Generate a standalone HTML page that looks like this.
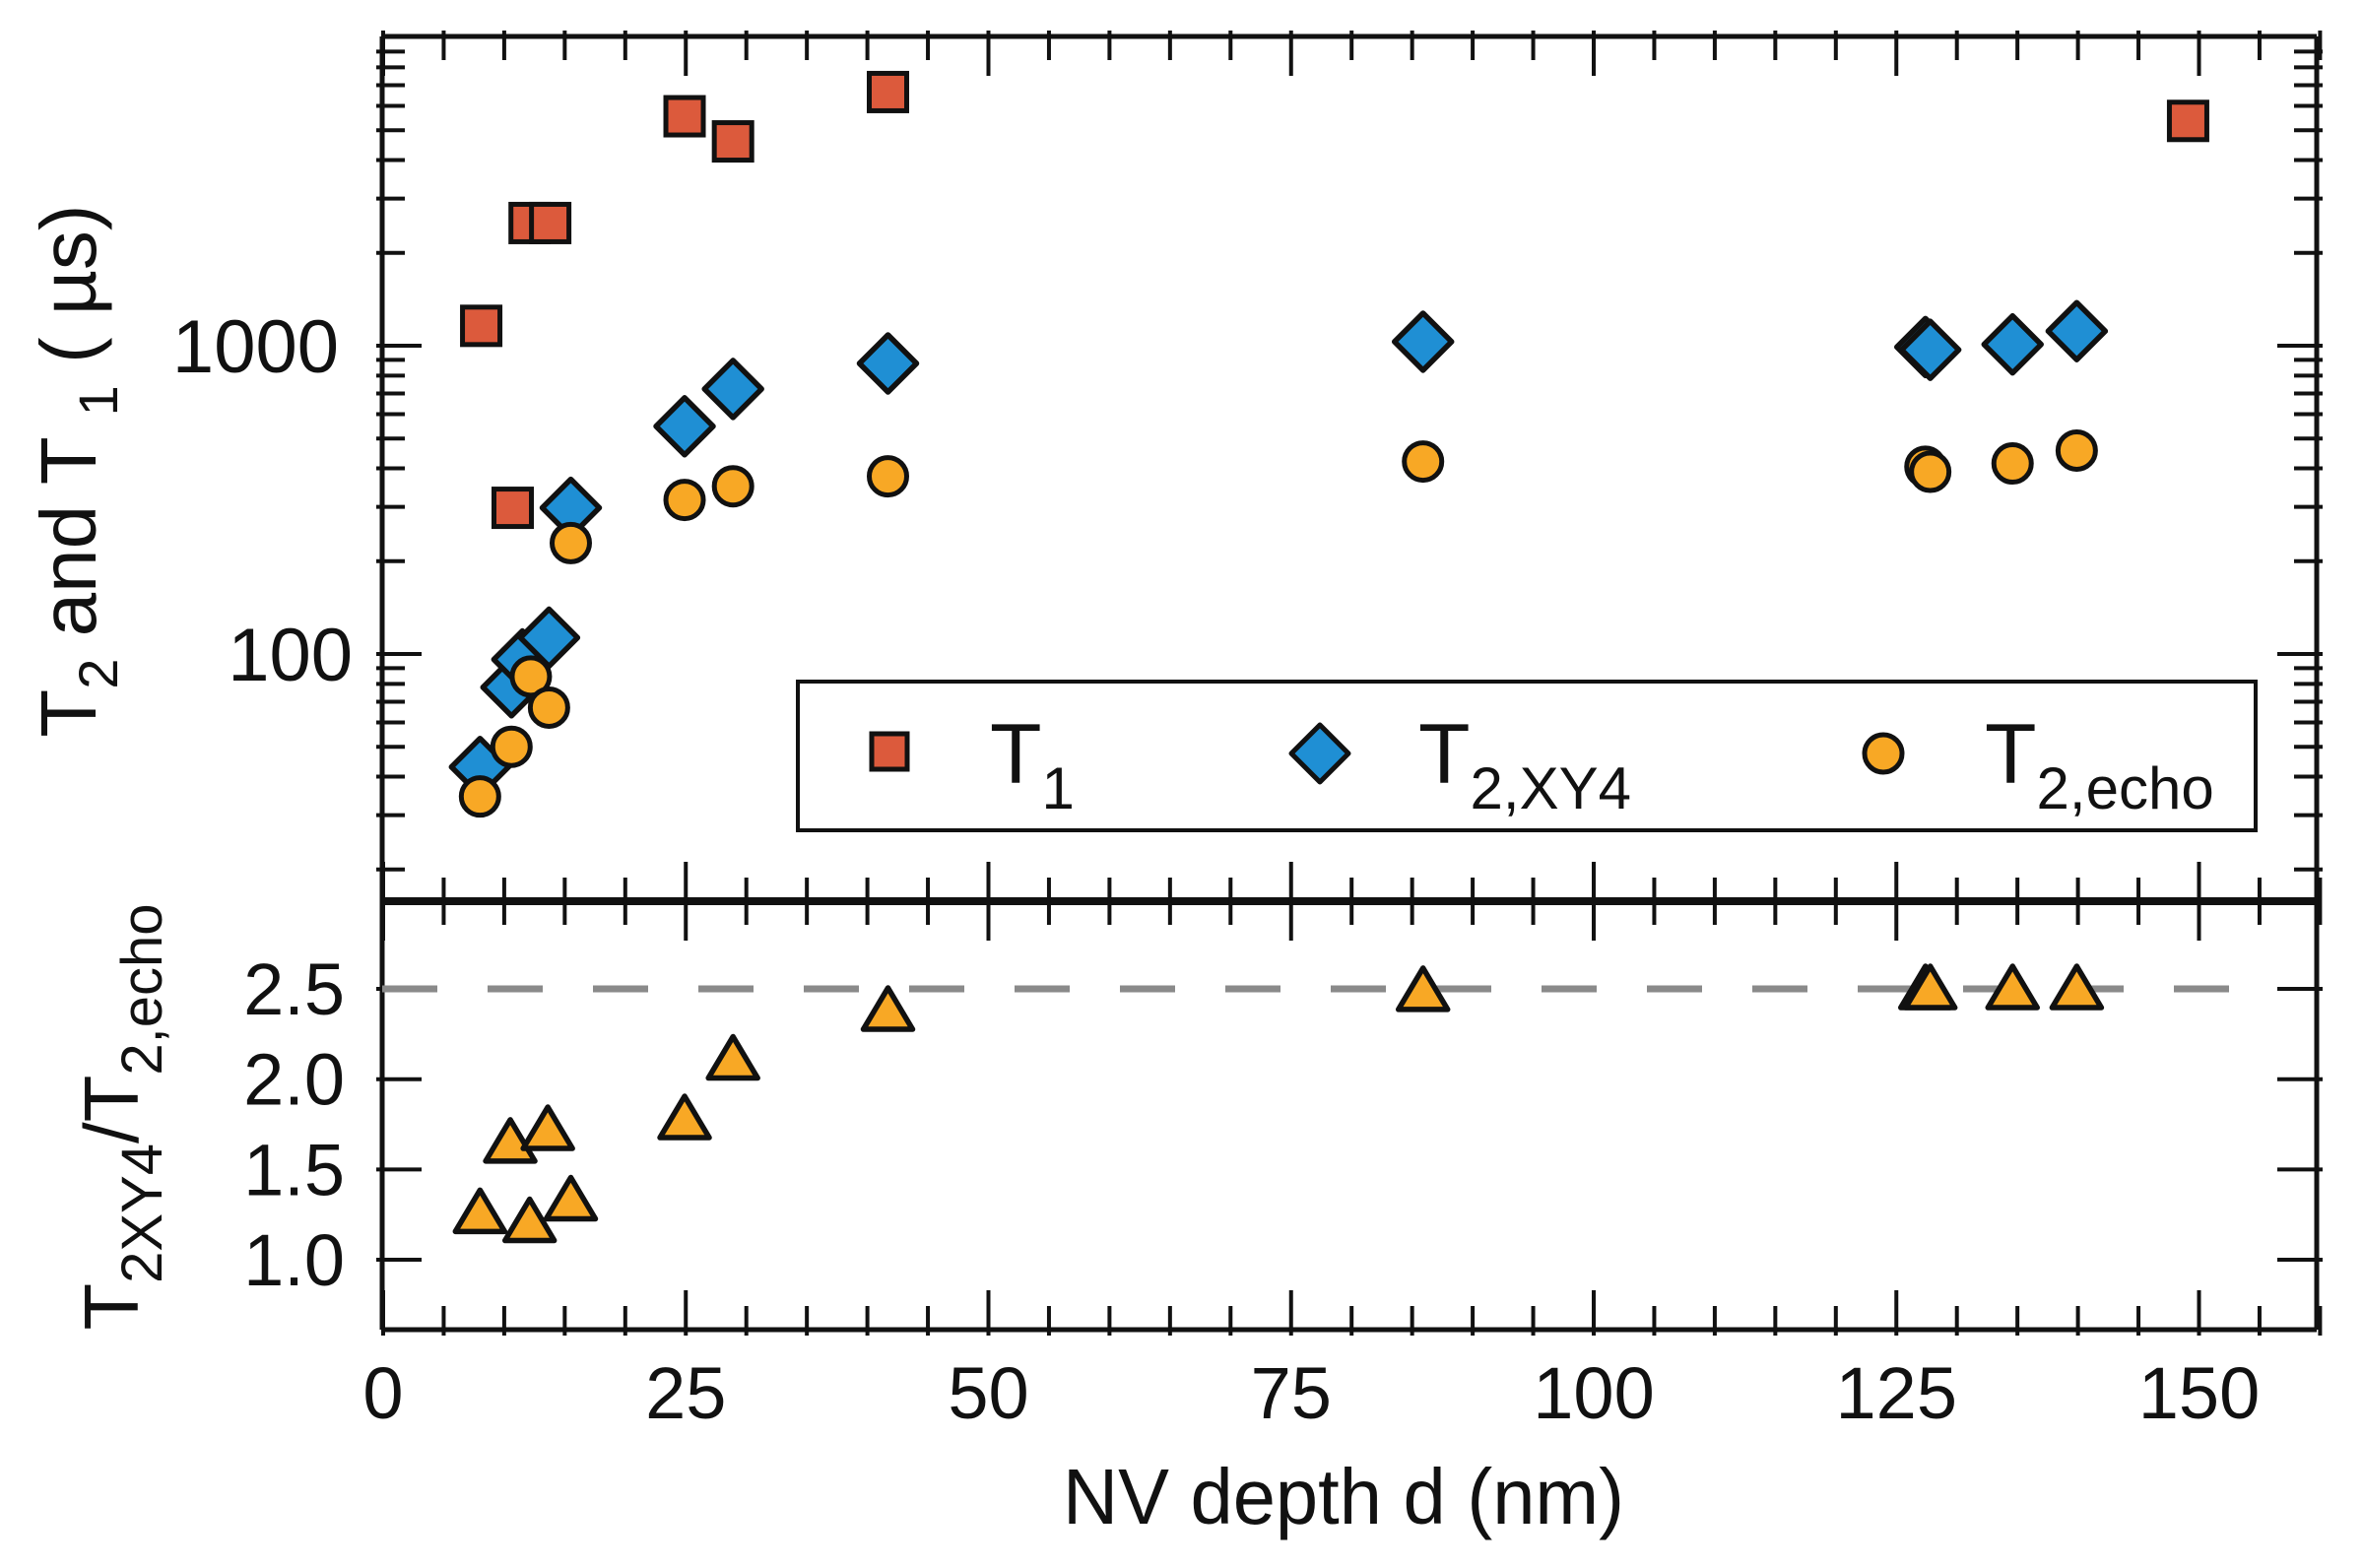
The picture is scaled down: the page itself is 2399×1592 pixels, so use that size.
<!DOCTYPE html>
<html><head><meta charset="utf-8"><style>
html,body{margin:0;padding:0;background:#fff;}
svg{display:block;}
text{font-family:"Liberation Sans",Arial,sans-serif;fill:#111;}
</style></head><body>
<svg id="chart" width="2399" height="1592" viewBox="0 0 2399 1592" xmlns="http://www.w3.org/2000/svg">
<g id="grid-ticks"></g>
<g id="marks"></g>
<g id="labels"></g>
<text transform="translate(97,478) rotate(-90)" text-anchor="middle" font-size="80">T<tspan font-size="56" dy="22">2</tspan><tspan dy="-22"> and T  </tspan><tspan font-size="56" dy="22">1</tspan><tspan dy="-22">  ( µs)</tspan></text>
<text transform="translate(140,1134) rotate(-90)" text-anchor="middle" font-size="78">T<tspan font-size="58" dy="24">2XY4</tspan><tspan dy="-24">/T</tspan><tspan font-size="58" dy="24">2,echo</tspan></text>
<text x="1364" y="1547" text-anchor="middle" font-size="80" textLength="570" lengthAdjust="spacingAndGlyphs">NV depth d (nm)</text>
<g>
<rect x="810" y="692" width="1480" height="151" fill="#fff" stroke="#111" stroke-width="4"/>
<rect x="885" y="745" width="36" height="36" fill="#dc5a3c" stroke="#111" stroke-width="5"/>
<text x="1005" y="795" font-size="86">T<tspan font-size="60" dy="26">1</tspan></text>
<polygon points="1340,736 1369,765 1340,794 1311,765" fill="#1f8fd4" stroke="#111" stroke-width="5" stroke-linejoin="round"/>
<text x="1440" y="795" font-size="86">T<tspan font-size="60" dy="26">2,XY4</tspan></text>
<circle cx="1912" cy="765" r="19" fill="#f8a825" stroke="#111" stroke-width="5"/>
<text x="2015" y="795" font-size="86">T<tspan font-size="60" dy="26">2,echo</tspan></text>
</g>
</svg>
<script>
const t1Depth=[8.1,12.1,13.8,10.7,24.9,28.9,41.7,149.1];
const t1Values=[1160,2500,2500,298,5550,4600,6650,5360];
const xy4Depth=[8.0,10.6,11.5,13.7,15.5,24.9,28.9,41.7,85.9,127.4,127.8,134.6,139.9];
const xy4Values=[43,78,96,113,298,548,724,876,1030,990,970,1010,1115];
const echoDepth=[8.0,10.6,12.2,13.7,15.5,24.9,28.9,41.7,85.9,127.4,127.8,134.6,139.9];
const echoValues=[34.5,50,84.5,67,229,316,350,377,421,405,390,415,457];
const ratioDepth=[8.0,10.5,12.1,13.6,15.5,24.9,28.9,41.7,85.9,127.4,127.8,134.6,139.9];
const ratioValues=[1.26,1.65,1.21,1.72,1.33,1.78,2.11,2.38,2.49,2.5,2.5,2.5,2.5];
const xTickLabels=[0,25,50,75,100,125,150];
const yTopTickLabels=[100,1000];
const yBottomTickLabels=[1.0,1.5,2.0,2.5];
const refRatio=2.5;

const L=388,R=2352,T=37,S=915,B=1350;
const X=v=>389+v*12.29;
const Yt=v=>664-313*(Math.log10(v)-2);
const Yb=v=>1279-(v-1)*183.3;
const NS="http://www.w3.org/2000/svg";
function mk(tag,attrs,parent){const e=document.createElementNS(NS,tag);for(const k in attrs)e.setAttribute(k,attrs[k]);parent.appendChild(e);return e;}
const gt=document.getElementById('grid-ticks'),gm=document.getElementById('marks'),gl=document.getElementById('labels');
function line(x1,y1,x2,y2,w,name,parent){const e=mk('line',{x1:x1,y1:y1,x2:x2,y2:y2,stroke:'#111','stroke-width':w},parent||gt);


return e;}
line(L,T,R,T,5,'top-axis');line(L,B,R,B,5,'bottom-axis');line(L,T,L,B,5,'left-axis');line(R,T,R,B,5,'right-axis');
line(L,S,R,S,8,'panel-separator');
for(let v=0;v<=160;v+=5){const x=X(v);const maj=v%25===0;const len=maj?40:24;
line(x,T-6,x,T+len,4,'x-tick-top');line(x,S-len,x,S+len,4,'x-tick-mid');line(x,B+6,x,B-len,4,'x-tick-bottom');}
for(let d=10;d<=10000;d*=10){for(let m=1;m<10;m++){const v=d*m;const y=Yt(v);if(y<T+2||y>S-2)continue;const len=m===1?40:23;
line(L-6,y,L+len,y,4,'y-tick-top-left');line(R+6,y,R-len,y,4,'y-tick-top-right');}}
for(const v of yBottomTickLabels){const y=Yb(v);line(L-6,y,L+40,y,4,'y-tick-bottom-left');line(R+6,y,R-40,y,4,'y-tick-bottom-right');}
for(const v of xTickLabels){const t=mk('text',{x:X(v),y:1440,'text-anchor':'middle','font-size':74},gl);t.textContent=String(v);

}
for(const v of yTopTickLabels){const t=mk('text',{x:v===1000?344:358,y:Yt(v)+27,'text-anchor':'end','font-size':76},gl);t.textContent=String(v);

}
for(const v of yBottomTickLabels){const t=mk('text',{x:350,y:Yb(v)+26,'text-anchor':'end','font-size':74},gl);t.textContent=v.toFixed(1);

}
const ref=mk('line',{x1:L,y1:Yb(refRatio),x2:2268,y2:Yb(refRatio),stroke:'#8a8a8a','stroke-width':7,'stroke-dasharray':'56 51'},gm);


t1Depth.forEach((d,i)=>{const x=X(d),y=Yt(t1Values[i]);const e=mk('rect',{x:x-19,y:y-19,width:38,height:38,fill:'#dc5a3c',stroke:'#111','stroke-width':5},gm);

});
xy4Depth.forEach((d,i)=>{const x=X(d),y=Yt(xy4Values[i]);const r=29;const e=mk('polygon',{points:`${x},${y-r} ${x+r},${y} ${x},${y+r} ${x-r},${y}`,fill:'#1f8fd4',stroke:'#111','stroke-width':5.5,'stroke-linejoin':'round'},gm);

});
echoDepth.forEach((d,i)=>{const e=mk('circle',{cx:X(d),cy:Yt(echoValues[i]),r:19,fill:'#f8a825',stroke:'#111','stroke-width':5},gm);

});
ratioDepth.forEach((d,i)=>{const x=X(d),y=Yb(ratioValues[i]);const e=mk('polygon',{points:`${x},${y-23} ${x+25},${y+19} ${x-25},${y+19}`,fill:'#f8a825',stroke:'#111','stroke-width':5.5,'stroke-linejoin':'round'},gm);

});
</script>
</body></html>
